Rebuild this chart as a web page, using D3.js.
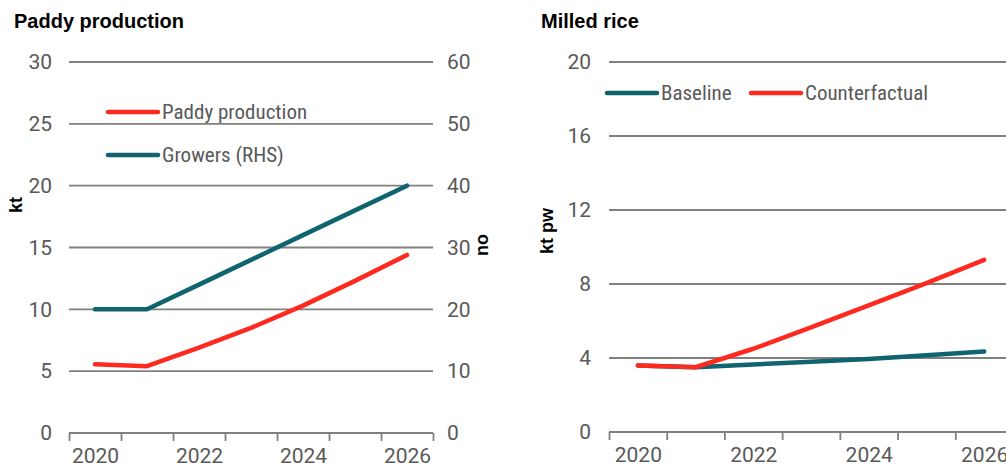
<!DOCTYPE html>
<html>
<head>
<meta charset="utf-8">
<script src="https://cdn.jsdelivr.net/npm/d3@7"></script>
<style>
  html, body { margin: 0; padding: 0; background: #fff; }
  svg { display: block; }
  .tick-label { font-family: Roboto, "Liberation Sans", Arial, sans-serif; fill: #595959; }
  .legend-label { font-family: "Roboto Condensed", "Liberation Sans Narrow", Roboto, sans-serif; fill: #595959; }
  .title { font-family: "Liberation Sans", Arial, sans-serif; font-weight: bold; fill: #000; }
</style>
</head>
<body>
<svg id="chart" width="1006" height="468"></svg>
<script>
// Years shown on both panels
const years = [2020, 2021, 2022, 2023, 2024, 2025, 2026];
const yearLabels = [2020, 2022, 2024, 2026];

// Paddy production panel
const paddyProduction = [5.55, 5.4, 6.9, 8.5, 10.3, 12.3, 14.4];   // kt (LHS)
const growers = [20, 20, 24, 28, 32, 36, 40];                        // no (RHS)
const paddyTicksLeft = [0, 5, 10, 15, 20, 25, 30];
const paddyTicksRight = [0, 10, 20, 30, 40, 50, 60];

// Milled rice panel
const baseline = [3.6, 3.5, 3.65, 3.8, 3.95, 4.15, 4.35];            // kt pw
const counterfactual = [3.6, 3.5, 4.5, 5.65, 6.85, 8.05, 9.3];       // kt pw
const milledTicks = [0, 4, 8, 12, 16, 20];

const RED = "#ff2a1f";
const TEAL = "#0f6470";
const GRID = "#808080";
const FONT = 21;

const svg = d3.select("#chart");

function drawPanel(g, opts) {
  const { x, y, ticks, x0, x1 } = opts;

  // horizontal gridlines (except zero, which is the axis)
  g.append("g")
    .selectAll("line")
    .data(ticks.filter(t => t !== 0))
    .join("line")
    .attr("x1", x0).attr("x2", x1)
    .attr("y1", d => y(d)).attr("y2", d => y(d))
    .attr("stroke", GRID).attr("stroke-width", 1.8);

  // x axis with year boundary ticks
  const bounds = d3.range(years[0] - 0.5, years[years.length - 1] + 1, 1);
  const axis = g.append("g").attr("transform", `translate(0,${y(0)})`);
  axis.call(d3.axisBottom(x).tickValues(bounds).tickSize(8).tickFormat(""));
  axis.select(".domain").attr("d", `M${x0},0H${x1}`).attr("stroke", GRID).attr("stroke-width", 1.8);
  axis.selectAll(".tick line").attr("stroke", GRID).attr("stroke-width", 1.8);

  const labels = g.append("g").attr("transform", `translate(0,${y(0)})`);
  labels.call(d3.axisBottom(x).tickValues(yearLabels).tickSize(0).tickPadding(15).tickFormat(d3.format("d")));
  labels.select(".domain").remove();
  labels.selectAll("text").attr("class", "tick-label").attr("font-size", FONT).attr("dy", "0.71em");

  // left value labels
  const left = g.append("g").attr("transform", `translate(${opts.leftLabelX},0)`);
  left.call(d3.axisLeft(y).tickValues(ticks).tickSize(0).tickPadding(0));
  left.select(".domain").remove();
  left.selectAll("text").attr("class", "tick-label").attr("font-size", FONT);
}

function drawLine(g, x, y, values, color) {
  const line = d3.line().x((d, i) => x(years[i])).y(d => y(d));
  g.append("path")
    .datum(values)
    .attr("d", line)
    .attr("fill", "none")
    .attr("stroke", color)
    .attr("stroke-width", 4.5)
    .attr("stroke-linecap", "round")
    .attr("stroke-linejoin", "round");
}

function legendItem(g, xs, y, color, label) {
  g.append("line")
    .attr("x1", xs).attr("x2", xs + 50)
    .attr("y1", y).attr("y2", y)
    .attr("stroke", color).attr("stroke-width", 4.5).attr("stroke-linecap", "round");
  g.append("text")
    .attr("class", "legend-label")
    .attr("x", xs + 54).attr("y", y)
    .attr("dy", "0.35em")
    .attr("font-size", FONT)
    .text(label);
}

function axisTitle(g, cx, cy, text) {
  g.append("text")
    .attr("class", "title")
    .attr("transform", `translate(${cx},${cy}) rotate(-90)`)
    .attr("text-anchor", "middle")
    .attr("dy", "0.35em")
    .attr("font-size", 18)
    .text(text);
}

// ---- Paddy production ----
{
  const g = svg.append("g");
  const x = d3.scaleLinear().domain([2019.5, 2026.5]).range([69, 433]);
  const y = d3.scaleLinear().domain([0, 30]).range([433, 62]);
  const y2 = d3.scaleLinear().domain([0, 60]).range([433, 62]);

  drawPanel(g, { x, y, ticks: paddyTicksLeft, x0: 69, x1: 433, leftLabelX: 52 });

  const right = g.append("g").attr("transform", "translate(447,0)");
  right.call(d3.axisRight(y2).tickValues(paddyTicksRight).tickSize(0).tickPadding(0));
  right.select(".domain").remove();
  right.selectAll("text").attr("class", "tick-label").attr("font-size", FONT);

  drawLine(g, x, y2, growers, TEAL);
  drawLine(g, x, y, paddyProduction, RED);

  legendItem(g, 108, 112, RED, "Paddy production");
  legendItem(g, 108, 155, TEAL, "Growers (RHS)");

  g.append("text").attr("class", "title").attr("x", 14).attr("y", 28)
    .attr("font-size", 20).text("Paddy production");
  axisTitle(g, 16, 205, "kt");
  axisTitle(g, 482, 245, "no");
}

// ---- Milled rice ----
{
  const g = svg.append("g");
  const x = d3.scaleLinear().domain([2019.5, 2026.5]).range([609, 1013]);
  const y = d3.scaleLinear().domain([0, 20]).range([432, 62]);

  drawPanel(g, { x, y, ticks: milledTicks, x0: 609, x1: 1013, leftLabelX: 591 });

  drawLine(g, x, y, baseline, TEAL);
  drawLine(g, x, y, counterfactual, RED);

  legendItem(g, 607, 93, TEAL, "Baseline");
  legendItem(g, 751, 93, RED, "Counterfactual");

  g.append("text").attr("class", "title").attr("x", 541).attr("y", 28)
    .attr("font-size", 20).text("Milled rice");
  axisTitle(g, 547, 231, "kt pw");
}
</script>
</body>
</html>
